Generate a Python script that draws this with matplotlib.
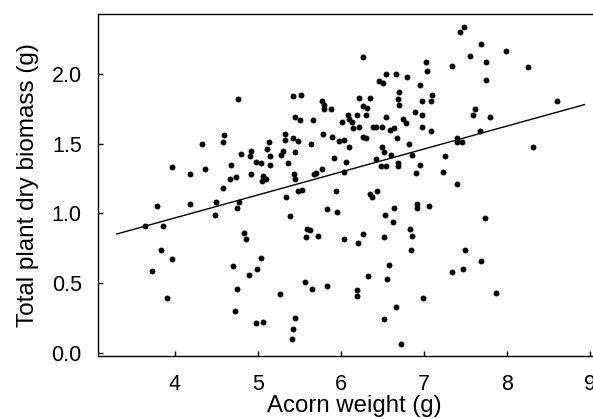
import matplotlib
matplotlib.use("Agg")
import matplotlib.pyplot as plt
import numpy as np

plt.rcParams['font.family'] = ['Liberation Sans', 'DejaVu Sans']

acorn_weight = [
    4.76, 4.59, 4.58, 4.33, 4.91, 4.79, 4.90, 4.98, 5.03, 4.67, 3.96, 4.36, 4.18, 4.91, 5.06, 4.73, 4.66, 5.05, 4.58,
    6.27, 7.02, 7.04, 6.54, 6.66, 6.79, 6.46, 6.51, 6.95, 6.70, 5.42, 5.52, 6.21, 6.35, 6.68, 6.98, 5.77, 5.80, 6.27,
    6.31, 5.80, 5.88, 6.70, 6.89, 6.08, 6.19, 6.30, 6.98, 5.45, 5.50, 6.10, 6.54, 5.66, 6.01, 6.13, 6.74, 6.78, 6.22,
    6.14, 6.39, 6.42, 6.49, 6.64, 6.59, 6.98, 5.32, 5.32, 5.78, 5.42, 5.48, 5.89, 6.27, 6.30, 5.97, 6.03, 6.67, 5.13,
    5.64, 6.09, 6.82, 6.49, 5.11, 5.30, 5.45, 6.52, 6.60, 5.28, 5.15, 6.85, 5.92, 6.42, 6.06, 5.36, 5.15, 6.68, 6.69,
    6.95, 6.48, 6.54, 5.77, 6.04, 5.70, 5.68, 5.43, 6.90, 5.10, 5.44,
    7.48, 7.43, 7.69, 7.98, 7.55, 7.75, 7.33, 8.25, 7.74, 7.09, 7.08, 8.60, 7.61, 7.59, 7.79, 7.67, 7.08, 7.40, 7.39,
    7.45, 8.31, 7.25, 7.23, 7.40,
    3.78, 4.18, 4.49, 4.77, 4.75, 4.48, 3.64, 3.85, 4.83, 4.85, 3.83, 3.97, 5.04, 4.70, 3.72, 4.99, 4.89, 4.75, 3.90,
    4.72, 4.98, 5.06,
    5.48, 5.53, 5.94, 6.35, 6.37, 6.43, 5.34, 6.92, 6.92, 7.06, 6.64, 5.83, 5.95, 6.53, 5.39, 6.63, 5.59, 5.63, 6.83,
    5.58, 5.72, 6.04, 6.27, 6.20, 6.52, 6.86, 6.84, 6.58, 6.33, 6.55, 5.56, 5.65, 5.83, 6.19, 6.19, 5.26, 6.99, 6.66,
    5.45, 5.42, 5.41, 6.52, 6.72,
    7.73, 7.49, 7.68, 7.33, 7.47, 7.86,
]
total_biomass = [
    1.82, 1.56, 1.51, 1.50, 1.45, 1.43, 1.41, 1.37, 1.36, 1.35, 1.33, 1.32, 1.28, 1.28, 1.27, 1.26, 1.25, 1.23, 1.18,
    2.12, 2.09, 2.02, 2.00, 2.00, 1.98, 1.95, 1.94, 1.92, 1.87, 1.84, 1.85, 1.83, 1.83, 1.82, 1.81, 1.81, 1.78, 1.77,
    1.76, 1.75, 1.75, 1.78, 1.73, 1.71, 1.71, 1.71, 1.71, 1.69, 1.67, 1.68, 1.69, 1.67, 1.66, 1.66, 1.68, 1.65, 1.62,
    1.61, 1.62, 1.62, 1.62, 1.61, 1.60, 1.62, 1.57, 1.53, 1.57, 1.54, 1.52, 1.55, 1.55, 1.54, 1.52, 1.53, 1.54, 1.51,
    1.50, 1.48, 1.50, 1.48, 1.46, 1.45, 1.44, 1.44, 1.42, 1.42, 1.41, 1.42, 1.40, 1.39, 1.37, 1.36, 1.35, 1.36, 1.34,
    1.35, 1.34, 1.34, 1.32, 1.30, 1.29, 1.28, 1.28, 1.29, 1.25, 1.25,
    2.34, 2.30, 2.22, 2.17, 2.13, 2.09, 2.06, 2.05, 1.96, 1.85, 1.81, 1.81, 1.75, 1.71, 1.69, 1.59, 1.59, 1.54, 1.51,
    1.51, 1.48, 1.41, 1.30, 1.21,
    1.05, 1.07, 1.08, 1.08, 1.04, 0.99, 0.91, 0.91, 0.86, 0.82, 0.74, 0.67, 0.68, 0.62, 0.59, 0.60, 0.56, 0.46, 0.39,
    0.30, 0.21, 0.22,
    1.16, 1.17, 1.16, 1.14, 1.12, 1.16, 1.12, 1.07, 1.04, 1.05, 1.04, 1.03, 1.01, 0.99, 0.98, 0.94, 0.89, 0.88, 0.89,
    0.83, 0.84, 0.82, 0.85, 0.79, 0.83, 0.84, 0.74, 0.63, 0.55, 0.53, 0.51, 0.46, 0.48, 0.45, 0.41, 0.42, 0.39, 0.33,
    0.25, 0.17, 0.10, 0.24, 0.06,
    0.97, 0.74, 0.66, 0.58, 0.60, 0.43,
]

fit_intercept = 0.308
fit_slope = 0.165
fit_x_range = [3.30, 8.93]

x_ticks = [4, 5, 6, 7, 8, 9]
y_ticks = [0.0, 0.5, 1.0, 1.5, 2.0]
y_tick_labels = ["0.0", "0.5", "1.0", "1.5", "2.0"]

W, H = 593, 419
fig = plt.figure(figsize=(W / 100, H / 100), dpi=100)
left, right, top, bottom = 98.3, 611.0, 14.3, 355.7
ax = fig.add_axes([left / W, 1 - bottom / H, (right - left) / W, (bottom - top) / H])

ax.scatter(acorn_weight, total_biomass, s=18, c='black', linewidths=0, zorder=3)
fx = np.array(fit_x_range)
ax.plot(fx, fit_intercept + fit_slope * fx, color='black', lw=1.0, zorder=2)

ax.set_xlim(3.077, 9.25)
ax.set_ylim(-0.0215, 2.43)
ax.set_xticks(x_ticks)
ax.set_yticks(y_ticks)
ax.set_yticklabels(y_tick_labels)
ax.tick_params(direction='in', length=3.6, width=1.0, labelsize=15.5, colors='black')
ax.tick_params(axis='x', pad=13)
ax.tick_params(axis='y', pad=12)
for sp in ax.spines.values():
    sp.set_linewidth(1.0)
ax.set_xlabel("Acorn weight (g)", fontsize=17.3, labelpad=0)
ax.set_ylabel("Total plant dry biomass (g)", fontsize=17.5, labelpad=9)

fig.savefig("out.png", dpi=100)
